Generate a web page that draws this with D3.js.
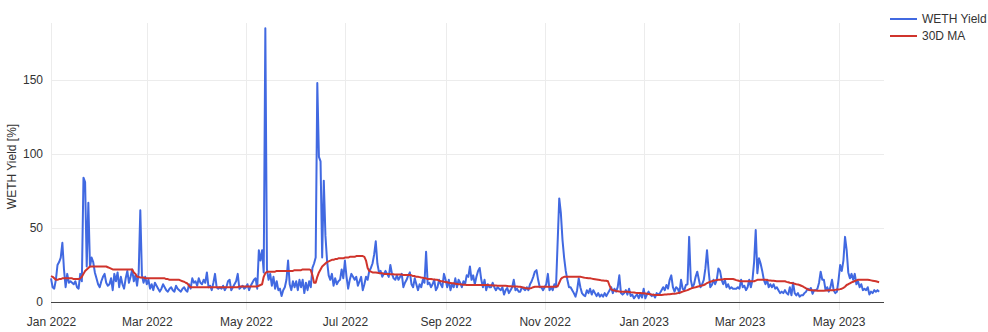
<!DOCTYPE html>
<html>
<head>
<meta charset="utf-8">
<script src="https://cdn.jsdelivr.net/npm/d3@7"></script>
<style>
  body { margin: 0; background: #fff; }
  svg { display: block; font-family: "Liberation Sans", Arial, sans-serif; }
</style>
</head>
<body>
<svg id="chart" width="988" height="332"></svg>
<script>
// daily series, first value = 1 Jan 2022
const startDate = '2022-01-01';
const endDate = '2023-05-29';

const wethYield = [
  16, 10, 9, 15, 25, 27, 30, 40, 22, 10,
  19, 13, 14, 13, 12, 14, 10, 9, 19, 14,
  84, 81, 24, 67, 24, 30, 27, 20, 16, 12,
  10, 14, 17, 19, 13, 11, 12, 16, 8, 19,
  14, 20, 10, 17, 12, 9, 16, 21, 13, 17,
  22, 14, 18, 11, 20, 62, 18, 13, 17, 12,
  15, 9, 12, 8, 13, 11, 9, 7, 9, 12,
  10, 8, 7, 9, 10, 8, 7, 11, 9, 8,
  7, 9, 10, 8, 7, 12, 9, 16, 13, 14,
  11, 16, 13, 12, 15, 13, 20, 10, 11, 8,
  13, 19, 10, 9, 10, 9, 11, 8, 10, 14,
  15, 8, 10, 12, 14, 19, 9, 10, 11, 9,
  10, 12, 8, 11, 13, 15, 16, 9, 35, 28,
  35, 20, 185, 22, 15, 19, 11, 17, 9, 14,
  8, 9, 4, 8, 10, 15, 28, 12, 8, 14,
  10, 14, 8, 15, 10, 15, 6, 13, 8, 14,
  10, 23, 26, 30, 148, 98, 95, 30, 82, 45,
  28, 18, 15, 19, 11, 16, 12, 14, 15, 22,
  16, 28, 17, 9, 15, 19, 17, 15, 17, 11,
  14, 17, 8, 12, 17, 15, 21, 23, 26, 32,
  41, 26, 20, 21, 17, 19, 21, 19, 17, 25,
  19, 16, 15, 18, 15, 17, 19, 10, 13, 15,
  18, 20, 12, 10, 16, 12, 8, 12, 10, 15,
  13, 34, 12, 13, 10, 12, 15, 8, 10, 15,
  12, 10, 19, 15, 10, 15, 8, 12, 10, 16,
  10, 15, 13, 10, 14, 12, 18, 17, 24, 15,
  18, 12, 17, 21, 23, 15, 10, 15, 8, 12,
  10, 10, 13, 10, 8, 10, 9, 8, 10, 5,
  8, 9.5, 6, 8, 10, 15, 8, 9, 7, 7,
  10, 9, 8, 10, 8, 12, 14, 17, 20.5, 21.5,
  15, 10, 10, 8, 10, 12, 19, 8, 10, 8,
  12, 10, 40, 70, 60, 42, 30, 21, 15, 10,
  10, 8, 6, 3.6, 8, 16, 10, 6, 4.7, 4,
  8, 6, 9, 5, 8, 6, 4, 6, 3.6, 5,
  3.6, 6, 4, 6, 8, 10, 6, 9, 7, 10,
  18, 6, 5, 6, 8, 5, 9, 4, 5, 2.5,
  4, 5, 2.5, 6, 3, 9, 2.5, 5, 7, 5,
  4, 5, 3, 6, 5, 6, 8, 10, 8, 11.5,
  9, 15, 18, 10, 7, 10, 9, 6, 15, 9,
  8, 11.5, 12, 44, 15, 10, 12, 17, 20.5, 15,
  10, 12, 15, 22.7, 35, 21, 10, 11.5, 15, 12,
  15, 22.7, 21, 15, 12, 15, 10, 12, 9, 10,
  9, 9, 9, 10, 9, 15, 10, 11, 8, 10,
  15, 10, 15, 27, 48.6, 19.4, 29.5, 26, 21, 15,
  12, 15, 10, 12, 10, 12, 9, 10, 8, 6,
  7, 6, 8, 6, 5, 10, 4.5, 13, 6, 4.5,
  6, 3.6, 4.5, 4.5, 6, 7, 9, 8, 9.5, 5.5,
  8, 8, 9, 13, 20.5, 15, 15, 8, 10, 7,
  10, 15, 8, 6, 7, 15, 25, 21, 28, 44,
  35, 20, 16, 19, 15, 19, 12, 14, 10, 12,
  8, 9, 8, 10, 5, 7, 6, 8, 7, 8,
  7
];

const ma30 = [
  17.5, 17, 16, 15, 15, 15.5, 15.5, 16, 16, 16,
  16, 16, 16, 16, 15.5, 15.5, 15.5, 15.5, 16, 17,
  19, 21, 22, 23, 24, 24, 24, 24, 24, 24,
  24, 24, 24, 24, 24, 23.5, 23, 22.5, 22, 22,
  22, 22, 22, 22, 22, 22, 22, 22, 22, 22,
  22, 20, 19, 17, 17, 16.5, 16.5, 16.5, 16, 16,
  16, 16, 16, 16, 16, 16, 16, 16, 16, 16,
  16, 15.5, 15.5, 15, 15, 15, 15, 15, 15, 15,
  14.5, 14, 13.7, 13, 12.5, 11, 10, 10, 10, 10,
  10, 10, 10, 10, 10, 10, 10, 10, 10, 10,
  10, 10, 10, 10, 10, 10, 10, 10, 10, 10,
  10, 10, 10, 10, 10, 10, 10.5, 10.5, 10.5, 10.5,
  10.5, 10.5, 10.5, 10.5, 10.5, 10.5, 10.5, 10.5, 11, 11.5,
  12, 17, 19.5, 20.5, 20.5, 20.5, 20.5, 20.5, 20.5, 21,
  21, 21, 21, 21, 21, 21, 21, 21, 21, 21,
  21.5, 21.5, 21.5, 21.5, 21.5, 22, 22, 22, 22, 22,
  21.5, 18, 13, 13, 17, 20, 22, 24, 25, 26,
  27, 27.5, 28, 28.5, 28.5, 29, 29, 29.5, 29.5, 29.5,
  29.5, 30, 30, 30, 30.5, 30.5, 30.5, 30.5, 31, 31,
  31, 31, 31, 30.5, 28, 23, 21, 20.5, 20, 20,
  20, 19.8, 19.5, 19.5, 19.5, 19, 19, 19, 19, 18.7,
  18.7, 18.7, 18.5, 18.5, 18.5, 18.5, 18.5, 18.3, 18.2, 18.2,
  18.2, 18.2, 18, 17.5, 17.5, 17, 17, 16.8, 16.5, 16.4,
  16, 16, 15.5, 15.5, 15.5, 15.3, 15.2, 15, 15, 14.5,
  14, 14, 13.7, 13.5, 13.3, 13, 12.8, 12.6, 12.6, 12.4,
  12.2, 12, 12, 11.8, 11.7, 11.6, 11.5, 11.5, 11.5, 11.5,
  11.5, 11.5, 11.5, 11.5, 11.5, 11.5, 11.5, 11.5, 11.5, 11.5,
  11.4, 11.3, 11.2, 11.2, 11.1, 11, 11, 11, 11, 11,
  10.9, 10.8, 10.7, 10.6, 10.5, 10.5, 10.4, 10.4, 10.3, 10.3,
  10, 9.8, 9.5, 9.3, 9.2, 9.2, 9.5, 10, 10.3, 10.3,
  10.3, 10.3, 10.3, 10.3, 10.3, 10.3, 10.3, 10.3, 10.3, 10.3,
  10.3, 10.4, 10.5, 13, 15.5, 16.5, 17, 17, 17, 17,
  17, 17, 17, 17, 17, 17, 17, 16.8, 16.5, 16.3,
  16.2, 16, 16, 15.8, 15.6, 15.4, 15.2, 15, 14.8, 14.6,
  14.5, 14.4, 14.4, 14, 11, 8.5, 8, 7.8, 7.5, 7.3,
  7.1, 7, 7, 7, 7, 7, 6.8, 6.6, 6.5, 6.4,
  6.2, 6.1, 6, 6, 5.9, 5.9, 5.8, 5.6, 5.4, 5.2,
  5, 4.9, 4.8, 4.7, 4.7, 4.7, 4.8, 4.9, 5, 5.1,
  5.2, 5.3, 5.4, 5.5, 5.6, 5.7, 6, 6.3, 6.6, 7,
  7.4, 7.7, 8, 8.6, 9, 9.5, 9.8, 10, 10.3, 10.6,
  11, 11.2, 11.5, 12, 12.8, 13.3, 13.7, 14, 14.3, 14.6,
  14.8, 15, 15, 15.2, 15.3, 15.5, 15.5, 15.5, 15.5, 15.5,
  15.5, 15.2, 14.8, 14.5, 14.2, 14, 14, 14, 14, 14,
  14, 14, 14, 14, 14.5, 15, 15, 15, 15, 15,
  15, 14.8, 14.6, 14.5, 14.4, 14.3, 14.2, 14.1, 14, 14,
  14, 14, 14, 13.6, 13.3, 13, 12.8, 12.6, 12.3, 12,
  11.8, 11.5, 11, 10.5, 9.8, 9.2, 8.6, 8.2, 8, 7.9,
  7.8, 7.7, 7.6, 7.6, 7.6, 7.6, 7.6, 7.7, 7.8, 7.9,
  8, 8, 8, 8.2, 8.4, 8.5, 8.7, 9, 9.6, 10.3,
  11.5, 12, 12.6, 13.2, 13.7, 14.2, 14.6, 15, 15, 15,
  15, 15, 15, 15, 14.8, 14.6, 14.4, 14.2, 14, 13.7,
  13.4
];

const yTicks = [0, 50, 100, 150];
const yMax = 188.5;
const seriesNames = ['WETH Yield', '30D MA'];
const seriesColors = ['#4169e1', '#d0342c'];
const yTitle = 'WETH Yield [%]';

const margin = {top: 23, right: 104, bottom: 30, left: 51};
const width = 988, height = 332;

const svg = d3.select('#chart');
svg.append('rect').attr('width', width).attr('height', height).attr('fill', '#fff');

const t0 = d3.utcParse('%Y-%m-%d')(startDate);
const dates = wethYield.map((d, i) => d3.utcDay.offset(t0, i));

const x = d3.scaleUtc()
    .domain([t0, d3.utcParse('%Y-%m-%d')(endDate)])
    .range([margin.left, width - margin.right]);
const y = d3.scaleLinear()
    .domain([0, yMax])
    .range([height - margin.bottom, margin.top]);

// grid
const xTicks = x.ticks(d3.utcMonth.every(2));
svg.append('g')
  .selectAll('line')
  .data(xTicks)
  .join('line')
    .attr('x1', d => Math.round(x(d)) + 0.5)
    .attr('x2', d => Math.round(x(d)) + 0.5)
    .attr('y1', margin.top)
    .attr('y2', height - margin.bottom + 8)
    .attr('stroke', '#ececec');

svg.append('g')
  .selectAll('line')
  .data(yTicks.filter(d => d > 0))
  .join('line')
    .attr('x1', margin.left)
    .attr('x2', width - margin.right)
    .attr('y1', d => Math.round(y(d)) + 0.5)
    .attr('y2', d => Math.round(y(d)) + 0.5)
    .attr('stroke', '#ececec');

// axes
const xAxis = d3.axisBottom(x)
    .tickValues(xTicks)
    .tickFormat(d3.utcFormat('%b %Y'))
    .tickSize(0)
    .tickPadding(15);
const gx = svg.append('g')
    .attr('transform', `translate(0,${height - margin.bottom})`)
    .call(xAxis);
gx.select('.domain').remove();
gx.selectAll('text').attr('font-size', 12).attr('fill', '#333').attr('font-family', null);

const yAxis = d3.axisLeft(y)
    .tickValues(yTicks)
    .tickSize(0)
    .tickPadding(8);
const gy = svg.append('g')
    .attr('transform', `translate(${margin.left},0)`)
    .call(yAxis);
gy.select('.domain').remove();
gy.selectAll('text').attr('font-size', 12).attr('fill', '#333').attr('font-family', null);

svg.append('line')
    .attr('x1', margin.left)
    .attr('x2', width - margin.right)
    .attr('y1', Math.round(y(0)) + 0.5)
    .attr('y2', Math.round(y(0)) + 0.5)
    .attr('stroke', '#444');

svg.append('text')
    .attr('transform', `translate(16,${(margin.top + height - margin.bottom) / 2 + 4}) rotate(-90)`)
    .attr('text-anchor', 'middle')
    .attr('font-size', 12)
    .attr('fill', '#333')
    .text(yTitle);

// lines
const line = d3.line()
    .x((d, i) => x(dates[i]))
    .y(d => y(d));

svg.append('path')
    .attr('d', line(wethYield))
    .attr('fill', 'none')
    .attr('stroke', seriesColors[0])
    .attr('stroke-width', 2)
    .attr('stroke-linejoin', 'round');

svg.append('path')
    .attr('d', line(ma30))
    .attr('fill', 'none')
    .attr('stroke', seriesColors[1])
    .attr('stroke-width', 2)
    .attr('stroke-linejoin', 'round');

// legend
const legend = svg.append('g')
    .selectAll('g')
    .data(seriesNames)
    .join('g')
    .attr('transform', (d, i) => `translate(890,${19 + i * 17})`);
legend.append('line')
    .attr('x1', 0).attr('x2', 27)
    .attr('stroke', (d, i) => seriesColors[i])
    .attr('stroke-width', 2);
legend.append('text')
    .attr('x', 32)
    .attr('dy', '0.35em')
    .attr('font-size', 12)
    .attr('fill', '#333')
    .text(d => d);
</script>
</body>
</html>
